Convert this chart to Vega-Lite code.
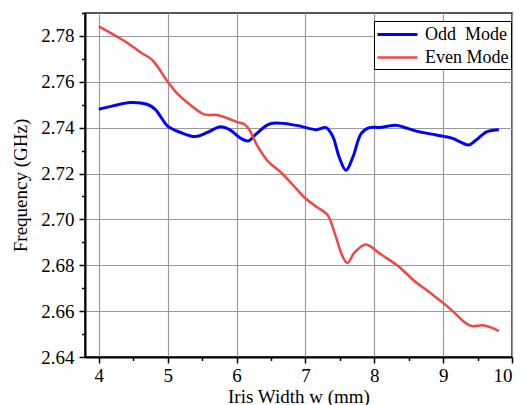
{
  "$schema": "https://vega.github.io/schema/vega-lite/v6.json",
  "width": 427,
  "height": 344,
  "autosize": {"type": "none"},
  "padding": {"left": 85, "top": 13, "right": 8, "bottom": 48},
  "background": "white",
  "config": {
    "view": {"stroke": "#222222", "strokeWidth": 1.5},
    "font": "Liberation Serif",
    "axis": {
      "labelFont": "Liberation Serif",
      "titleFont": "Liberation Serif",
      "labelFontSize": 19,
      "titleFontSize": 19,
      "titleFontWeight": "normal",
      "labelColor": "black",
      "titleColor": "black",
      "domainColor": "black",
      "domainWidth": 2,
      "tickColor": "black",
      "tickWidth": 1.5,
      "gridColor": "#9a9a9a",
      "gridWidth": 1.2,
      "gridOpacity": 1
    }
  },
  "data": {
    "values": [
      {"x": 4.0, "f": 2.748, "mode": "Odd\u00a0 Mode"},
      {"x": 4.22, "f": 2.7496, "mode": "Odd\u00a0 Mode"},
      {"x": 4.46, "f": 2.751, "mode": "Odd\u00a0 Mode"},
      {"x": 4.7, "f": 2.7502, "mode": "Odd\u00a0 Mode"},
      {"x": 4.82, "f": 2.748, "mode": "Odd\u00a0 Mode"},
      {"x": 5.0, "f": 2.7407, "mode": "Odd\u00a0 Mode"},
      {"x": 5.18, "f": 2.738, "mode": "Odd\u00a0 Mode"},
      {"x": 5.4, "f": 2.7361, "mode": "Odd\u00a0 Mode"},
      {"x": 5.57, "f": 2.7378, "mode": "Odd\u00a0 Mode"},
      {"x": 5.77, "f": 2.7404, "mode": "Odd\u00a0 Mode"},
      {"x": 5.91, "f": 2.7389, "mode": "Odd\u00a0 Mode"},
      {"x": 6.06, "f": 2.7354, "mode": "Odd\u00a0 Mode"},
      {"x": 6.17, "f": 2.7342, "mode": "Odd\u00a0 Mode"},
      {"x": 6.29, "f": 2.7374, "mode": "Odd\u00a0 Mode"},
      {"x": 6.49, "f": 2.7417, "mode": "Odd\u00a0 Mode"},
      {"x": 6.87, "f": 2.741, "mode": "Odd\u00a0 Mode"},
      {"x": 7.16, "f": 2.7391, "mode": "Odd\u00a0 Mode"},
      {"x": 7.3, "f": 2.74, "mode": "Odd\u00a0 Mode"},
      {"x": 7.4, "f": 2.736, "mode": "Odd\u00a0 Mode"},
      {"x": 7.49, "f": 2.7272, "mode": "Odd\u00a0 Mode"},
      {"x": 7.59, "f": 2.7214, "mode": "Odd\u00a0 Mode"},
      {"x": 7.69, "f": 2.7272, "mode": "Odd\u00a0 Mode"},
      {"x": 7.81, "f": 2.7374, "mode": "Odd\u00a0 Mode"},
      {"x": 7.93, "f": 2.74, "mode": "Odd\u00a0 Mode"},
      {"x": 8.07, "f": 2.7401, "mode": "Odd\u00a0 Mode"},
      {"x": 8.32, "f": 2.741, "mode": "Odd\u00a0 Mode"},
      {"x": 8.42, "f": 2.7403, "mode": "Odd\u00a0 Mode"},
      {"x": 8.61, "f": 2.7385, "mode": "Odd\u00a0 Mode"},
      {"x": 8.9, "f": 2.7368, "mode": "Odd\u00a0 Mode"},
      {"x": 9.14, "f": 2.7353, "mode": "Odd\u00a0 Mode"},
      {"x": 9.24, "f": 2.7339, "mode": "Odd\u00a0 Mode"},
      {"x": 9.37, "f": 2.7324, "mode": "Odd\u00a0 Mode"},
      {"x": 9.48, "f": 2.7346, "mode": "Odd\u00a0 Mode"},
      {"x": 9.63, "f": 2.7382, "mode": "Odd\u00a0 Mode"},
      {"x": 9.81, "f": 2.7391, "mode": "Odd\u00a0 Mode"},
      {"x": 4.0, "f": 2.7842, "mode": "Even Mode"},
      {"x": 4.36, "f": 2.778, "mode": "Even Mode"},
      {"x": 4.6, "f": 2.773, "mode": "Even Mode"},
      {"x": 4.78, "f": 2.7694, "mode": "Even Mode"},
      {"x": 5.0, "f": 2.76, "mode": "Even Mode"},
      {"x": 5.13, "f": 2.7552, "mode": "Even Mode"},
      {"x": 5.33, "f": 2.7499, "mode": "Even Mode"},
      {"x": 5.53, "f": 2.7458, "mode": "Even Mode"},
      {"x": 5.72, "f": 2.7455, "mode": "Even Mode"},
      {"x": 5.87, "f": 2.7441, "mode": "Even Mode"},
      {"x": 6.0, "f": 2.7425, "mode": "Even Mode"},
      {"x": 6.12, "f": 2.7414, "mode": "Even Mode"},
      {"x": 6.19, "f": 2.7388, "mode": "Even Mode"},
      {"x": 6.31, "f": 2.7317, "mode": "Even Mode"},
      {"x": 6.46, "f": 2.7252, "mode": "Even Mode"},
      {"x": 6.63, "f": 2.7209, "mode": "Even Mode"},
      {"x": 6.82, "f": 2.715, "mode": "Even Mode"},
      {"x": 7.0, "f": 2.7092, "mode": "Even Mode"},
      {"x": 7.17, "f": 2.7053, "mode": "Even Mode"},
      {"x": 7.32, "f": 2.702, "mode": "Even Mode"},
      {"x": 7.44, "f": 2.6926, "mode": "Even Mode"},
      {"x": 7.54, "f": 2.6839, "mode": "Even Mode"},
      {"x": 7.61, "f": 2.681, "mode": "Even Mode"},
      {"x": 7.71, "f": 2.6854, "mode": "Even Mode"},
      {"x": 7.86, "f": 2.689, "mode": "Even Mode"},
      {"x": 7.94, "f": 2.6883, "mode": "Even Mode"},
      {"x": 8.07, "f": 2.6853, "mode": "Even Mode"},
      {"x": 8.14, "f": 2.6839, "mode": "Even Mode"},
      {"x": 8.35, "f": 2.6796, "mode": "Even Mode"},
      {"x": 8.57, "f": 2.6735, "mode": "Even Mode"},
      {"x": 8.81, "f": 2.668, "mode": "Even Mode"},
      {"x": 9.0, "f": 2.6636, "mode": "Even Mode"},
      {"x": 9.14, "f": 2.66, "mode": "Even Mode"},
      {"x": 9.29, "f": 2.6557, "mode": "Even Mode"},
      {"x": 9.41, "f": 2.6535, "mode": "Even Mode"},
      {"x": 9.58, "f": 2.6538, "mode": "Even Mode"},
      {"x": 9.7, "f": 2.6528, "mode": "Even Mode"},
      {"x": 9.81, "f": 2.6513, "mode": "Even Mode"}
    ]
  },
  "resolve": {"axis": {"x": "independent", "y": "independent"}},
  "layer": [
    {
      "mark": {"type": "line", "interpolate": "catmull-rom"},
      "encoding": {
        "x": {
          "field": "x", "type": "quantitative",
          "scale": {"domain": [3.8, 10], "nice": false, "zero": false},
          "axis": {
            "orient": "bottom",
            "values": [4, 5, 6, 7, 8, 9, 10],
            "format": "d",
            "grid": true,
            "tickSize": 6,
            "labelPadding": 3,
            "labelFont": "Liberation Serif",
            "labelFontSize": 19,
            "title": "Iris Width w (mm)",
            "titleFont": "Liberation Serif",
            "titlePadding": 2
          }
        },
        "y": {
          "field": "f", "type": "quantitative",
          "scale": {"domain": [2.64, 2.79], "nice": false, "zero": false},
          "axis": {
            "orient": "left",
            "values": [2.64, 2.66, 2.68, 2.7, 2.72, 2.74, 2.76, 2.78],
            "format": ".2f",
            "grid": true,
            "tickSize": 6,
            "labelPadding": 5,
            "labelFont": "Liberation Serif",
            "labelFontSize": 19,
            "title": "Frequency (GHz)",
            "titleFont": "Liberation Serif",
            "titlePadding": 10
          }
        },
        "color": {
          "field": "mode", "type": "nominal",
          "sort": ["Odd\u00a0 Mode", "Even Mode"],
          "scale": {"domain": ["Odd\u00a0 Mode", "Even Mode"], "range": ["#0000ff", "#f24646"]},
          "legend": {
            "title": null,
            "orient": "none",
            "legendX": 289,
            "legendY": 8,
            "strokeColor": "black",
            "fillColor": "white",
            "padding": 2,
            "rowPadding": 2,
            "symbolType": "M-1,0H3",
            "symbolSize": 400,
            "symbolStrokeWidth": 3,
            "labelFont": "Liberation Serif",
            "labelFontSize": 18,
            "labelColor": "black",
            "labelOffset": 26
          }
        },
        "strokeWidth": {
          "field": "mode", "type": "nominal",
          "scale": {"domain": ["Odd\u00a0 Mode", "Even Mode"], "range": [3, 2.5]},
          "legend": null
        }
      }
    },
    {
      "mark": {"type": "point", "opacity": 0},
      "encoding": {
        "x": {
          "field": "x", "type": "quantitative",
          "axis": {
            "orient": "bottom",
            "values": [4.5, 5.5, 6.5, 7.5, 8.5, 9.5],
            "labels": false,
            "grid": false,
            "domain": false,
            "tickSize": 3.5,
            "title": null
          }
        },
        "y": {
          "field": "f", "type": "quantitative",
          "axis": {
            "orient": "left",
            "values": [2.65, 2.67, 2.69, 2.71, 2.73, 2.75, 2.77, 2.79],
            "labels": false,
            "grid": false,
            "domain": false,
            "tickSize": 3.5,
            "title": null
          }
        }
      }
    }
  ]
}
